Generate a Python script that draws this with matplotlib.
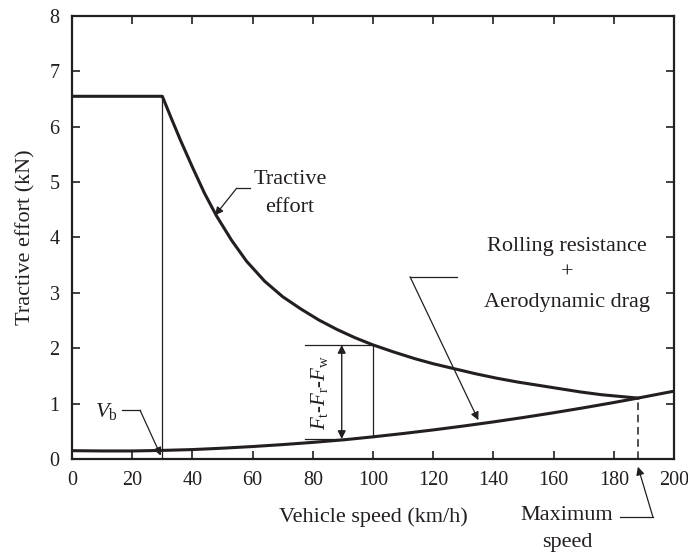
import matplotlib
matplotlib.use("Agg")
import matplotlib.pyplot as plt
import numpy as np

plt.rcParams['font.family'] = ['Liberation Serif', 'DejaVu Serif']
plt.rcParams['mathtext.fontset'] = 'custom'
plt.rcParams['mathtext.rm'] = 'Liberation Serif'
plt.rcParams['mathtext.it'] = 'Liberation Serif:italic'

INK = '#231f20'

# Tractive effort curve (kN)
te_speed = [0, 30, 33, 36, 40, 44, 48, 53, 58, 64, 70, 76, 82, 88, 94, 100,
            107, 114, 120, 127, 134, 141, 148, 155, 162, 169, 176, 182, 188]
te_force = [6.55, 6.55, 6.15, 5.76, 5.27, 4.80, 4.39, 3.95, 3.57, 3.21, 2.93, 2.71, 2.51, 2.34, 2.19, 2.06,
            1.93, 1.81, 1.72, 1.63, 1.54, 1.46, 1.39, 1.33, 1.27, 1.21, 1.16, 1.13, 1.10]

# Rolling resistance + aerodynamic drag (kN)
rr_speed = [0, 10, 20, 30, 40, 50, 60, 70, 80, 90, 100, 110, 120, 130, 140, 150, 160, 170, 180, 188, 200]
rr_force = [0.15, 0.145, 0.145, 0.155, 0.17, 0.195, 0.225, 0.26, 0.30, 0.345, 0.40, 0.46, 0.525, 0.595,
            0.67, 0.75, 0.835, 0.925, 1.02, 1.10, 1.225]

v_base = 30
v_max = 188
v_marker = 100

fig = plt.figure(figsize=(6.88, 5.52), dpi=100)
ax = fig.add_axes([0.1047, 0.1685, 0.875, 0.8025])

ax.plot(te_speed, te_force, color=INK, lw=2.2, solid_joinstyle='round', zorder=3)
ax.plot(rr_speed, rr_force, color=INK, lw=2.2, solid_joinstyle='round', zorder=3)

# thin guide lines
ax.plot([v_base, v_base], [0, te_force[1]], color=INK, lw=0.9)
te_at_marker = te_force[te_speed.index(v_marker)]
rr_at_marker = rr_force[rr_speed.index(v_marker)]
ax.plot([v_marker, v_marker], [rr_at_marker, te_at_marker], color=INK, lw=0.9)
ax.plot([77.5, v_marker], [te_at_marker, te_at_marker], color=INK, lw=0.9)
ax.plot([77.5, 91], [0.37, 0.37], color=INK, lw=0.9)
ax.plot([v_max, v_max], [0, 1.10], color=INK, lw=1.1, ls=(0, (5, 3)))

# double arrow for surplus force
ax.annotate('', xy=(89.6, te_at_marker), xytext=(89.6, 0.36),
            arrowprops=dict(arrowstyle='<|-|>', color=INK, lw=1.0, mutation_scale=12,
                            shrinkA=0, shrinkB=0))
ax.text(82.3, 1.2, r'$F_{\rm t}$-$F_{\rm r}$-$F_{\rm w}$', rotation=90, ha='center', va='center',
        fontsize=15, color=INK)

arrow_kw = dict(arrowstyle='-|>', color=INK, lw=0.9, mutation_scale=12, shrinkA=0, shrinkB=0)

# Tractive effort label
ax.text(72.4, 5.04, 'Tractive', ha='center', va='center', fontsize=16, color=INK)
ax.text(72.4, 4.55, 'effort', ha='center', va='center', fontsize=16, color=INK)
ax.plot([59.1, 54.7], [4.89, 4.89], color=INK, lw=0.9)
ax.annotate('', xy=(47.5, 4.40), xytext=(54.7, 4.89), arrowprops=arrow_kw)

# Resistance label
ax.text(164.5, 3.83, 'Rolling resistance', ha='center', va='center', fontsize=16, color=INK)
ax.text(164.5, 3.36, '+', ha='center', va='center', fontsize=16, color=INK)
ax.text(164.5, 2.83, 'Aerodynamic drag', ha='center', va='center', fontsize=16, color=INK)
ax.plot([127.8, 112.3], [3.29, 3.29], color=INK, lw=0.9)
ax.annotate('', xy=(135, 0.70), xytext=(112.3, 3.29), arrowprops=arrow_kw)

# V_b label
ax.text(11.5, 0.85, r'$V_{\rm b}$', ha='center', va='center', fontsize=16, color=INK)
ax.plot([16.5, 22.6], [0.88, 0.88], color=INK, lw=0.9)
ax.annotate('', xy=(29.5, 0.06), xytext=(22.6, 0.88), arrowprops=arrow_kw)

# Maximum speed label (below the axis)
ax.text(164.5, -1.02, 'Maximum', ha='center', va='center', fontsize=16, color=INK, clip_on=False)
ax.text(164.5, -1.5, 'speed', ha='center', va='center', fontsize=16, color=INK, clip_on=False)
ax.plot([182, 193], [-1.05, -1.05], color=INK, lw=0.9, clip_on=False)
ax.annotate('', xy=(188, -0.14), xytext=(193, -1.05), arrowprops=arrow_kw,
            annotation_clip=False)

ax.set_xlim(0, 200)
ax.set_ylim(0, 8)
ax.set_xticks(np.arange(0, 201, 20))
ax.set_yticks(np.arange(0, 9, 1))
ax.tick_params(direction='in', top=True, right=True, length=6, width=1.2, pad=9,
               labelsize=14.5, colors=INK)
for sp in ax.spines.values():
    sp.set_linewidth(1.6)
    sp.set_color(INK)

ax.set_xlabel('Vehicle speed (km/h)', fontsize=16, color=INK, labelpad=12)
ax.set_ylabel('Tractive effort (kN)', fontsize=16, color=INK, labelpad=10)

fig.savefig('out.png', dpi=100)
